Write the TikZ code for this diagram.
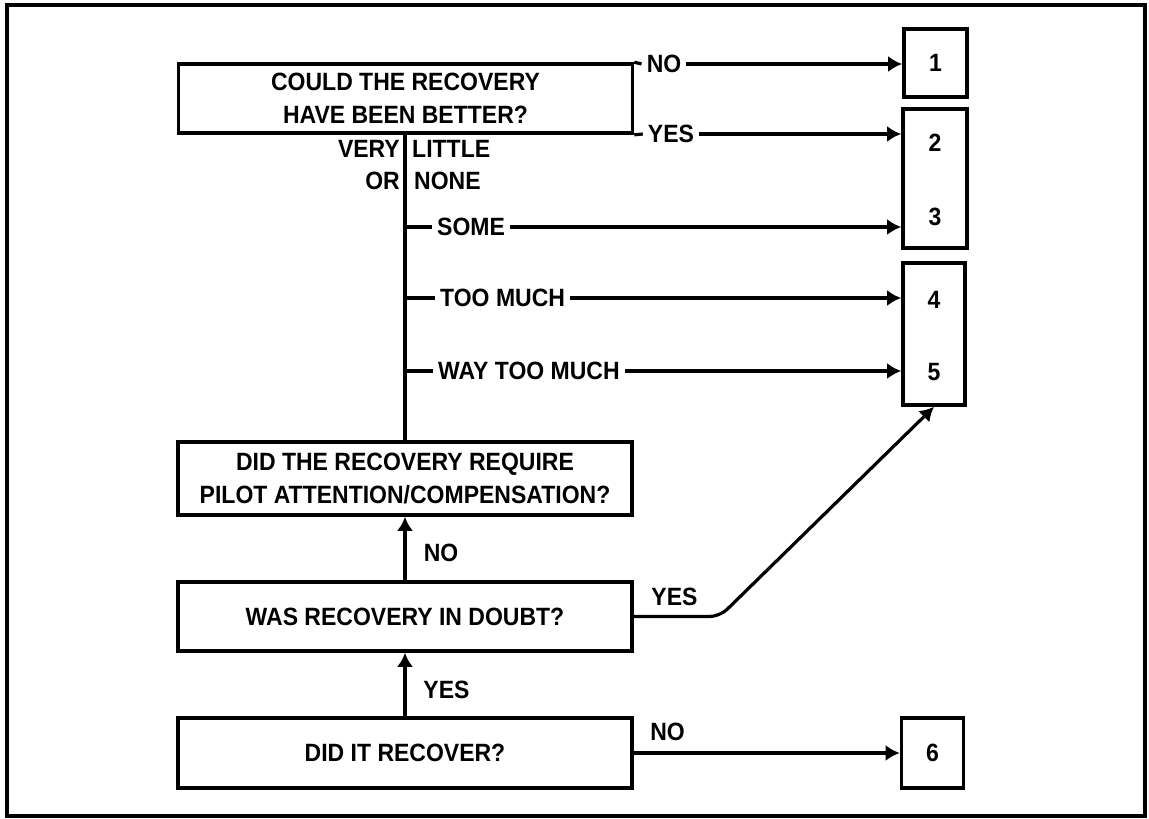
\documentclass[tikz,border=0pt]{standalone}
\usepackage{fontspec}
\setmainfont{Liberation Sans}[FakeStretch=0.92]
\usetikzlibrary{arrows.meta}
\begin{document}
\begin{tikzpicture}[x=1pt,y=-1pt,
  every node/.style={font=\fontsize{25}{33}\selectfont\bfseries, inner sep=0pt},
  qbox/.style={draw, line width=3.6pt, minimum width=454pt, align=center},
  nbox/.style={draw, line width=3.6pt},
  conn/.style={line width=3.2pt},
  arr/.style={conn, -{Latex[length=14pt,width=16pt]}},
  lbl/.style={inner xsep=5pt}]
\useasboundingbox (0,0) rectangle (1149,819);
\draw[line width=4pt] (7,5) rectangle (1145,816);

% question boxes
\node[qbox, minimum height=69pt] (q4) at (405.5,98.5) {COULD THE RECOVERY\\HAVE BEEN BETTER?};
\node[qbox, minimum height=73pt] (q3) at (405,478.5) {DID THE RECOVERY REQUIRE\\PILOT ATTENTION/COMPENSATION?};
\node[qbox, minimum height=69pt] (q2) at (405,616.5) {WAS RECOVERY IN DOUBT?};
\node[qbox, minimum height=70pt] (q1) at (405,753) {DID IT RECOVER?};

% result boxes
\node[nbox, minimum width=63pt, minimum height=68pt] (b1) at (935.5,63) {1};
\node[nbox, minimum width=64pt, minimum height=139pt] (b23) at (935,178.5) {};
\node (n2) at (935,143) {2};
\node (n3) at (935,217) {3};
\node[nbox, minimum width=62pt, minimum height=142pt] (b45) at (934,334) {};
\node (n4) at (934,300) {4};
\node (n5) at (934,372) {5};
\node[nbox, minimum width=62pt, minimum height=70pt] (b6) at (932.5,753) {6};

% top box NO / YES
\node[lbl] (lno1) at (664,64) {NO};
\node[lbl] (lyes1) at (671,134) {YES};
\draw[conn] (q4.north east) -- (lno1.west);
\draw[arr] (lno1.east) -- (lno1.east -| b1.west);
\draw[conn] (q4.south east) -- (lyes1.west);
\draw[arr] (lyes1.east) -- (lyes1.east -| b23.west);

% trunk
\draw[conn] (q3.north |- q4.south) -- (q3.north);
\node[anchor=east] (lvery) at (400,149) {VERY};
\node[anchor=west] (llittle) at (412,149) {LITTLE};
\node[anchor=east] (lor) at (400,181) {OR};
\node[anchor=west] (lnone) at (414,181) {NONE};

\node[lbl, anchor=west] (lsome) at (432,227) {SOME};
\node[lbl, anchor=west] (ltoo) at (435,298) {TOO MUCH};
\node[lbl, anchor=west] (lway) at (433,371) {WAY TOO MUCH};
\draw[conn] (q3.north |- lsome.west) -- (lsome.west);
\draw[arr] (lsome.east) -- (lsome.east -| b23.west);
\draw[conn] (q3.north |- ltoo.west) -- (ltoo.west);
\draw[arr] (ltoo.east) -- (ltoo.east -| b45.west);
\draw[conn] (q3.north |- lway.west) -- (lway.west);
\draw[arr] (lway.east) -- (lway.east -| b45.west);

% lower chain
\draw[arr] (q2.north) -- (q3.south);
\node (lno2) at (441,553) {NO};
\draw[arr] (q1.north) -- (q2.south);
\node (lyes2) at (446.5,690) {YES};

\draw[arr, rounded corners=10pt] (q2.east) -- ++(86,0) -- (b45.south);
\node (lyes3) at (674.5,597) {YES};
\draw[arr] (q1.east) -- (b6.west);
\node (lno3) at (667.5,732) {NO};
\end{tikzpicture}
\end{document}
